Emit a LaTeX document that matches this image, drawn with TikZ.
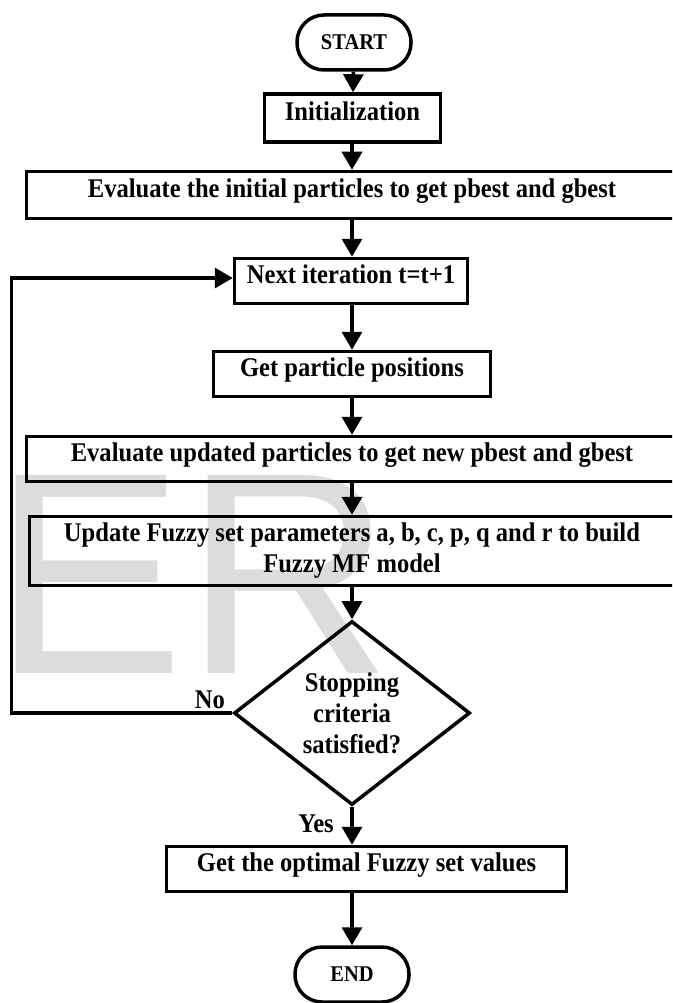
\documentclass[tikz,border=0pt]{standalone}
\usepackage{fontspec}
\setmainfont{Liberation Serif}[FakeStretch=0.91]
\newfontfamily\wmfont{Liberation Sans}
\usetikzlibrary{arrows.meta,shapes.geometric}
\definecolor{wmgray}{HTML}{DCDCDC}
\newcommand\fsz[1]{\fontsize{#1}{31}\selectfont\bfseries}
\tikzset{
  proc/.style={draw, line width=3.5pt, rectangle, inner sep=0pt, align=center,
    font=\fsz{27}, text height=18pt, text depth=13pt},
  proctwo/.style={draw, line width=3.5pt, rectangle, inner sep=0pt, align=center,
    font=\fsz{27}},
  term/.style={draw, line width=3.5pt, rectangle, rounded corners=27pt, inner sep=0pt,
    minimum width=114pt, minimum height=55pt, font=\fsz{22.5}},
  decide/.style={draw, line width=3.5pt, diamond, aspect=1.28, inner sep=0pt,
    align=center, font=\fsz{27}, minimum width=236pt, minimum height=184pt},
  flow/.style={line width=3.5pt, -{Triangle[width=20pt,length=18pt]}},
  lbl/.style={inner sep=0pt, anchor=base, font=\fsz{27}},
}
\begin{document}
\begin{tikzpicture}[x=1pt,y=-1pt]
\useasboundingbox (0,0) rectangle (672,1003);
\clip (0,0) rectangle (672,1003);
% watermark
\node[anchor=base west, inner sep=0pt, text=wmgray,
  font=\wmfont\fontsize{288}{288}\selectfont] (wm) at (-8,673) {ER};
% nodes
\node[term] (start) at (354,42.5) {START};
\node[proc, minimum width=176pt, minimum height=48pt] (init) at (352.5,118) {Initialization};
\node[proc, minimum width=651pt, minimum height=47pt] (eval1) at (352,195)
  {Evaluate the initial particles to get pbest and gbest};
\node[proc, minimum width=233pt, minimum height=45pt] (next) at (351,281) {Next iteration t=t+1};
\node[proc, minimum width=277pt, minimum height=45pt] (pos) at (352,374) {Get particle positions};
\node[proc, minimum width=651pt, minimum height=45pt] (eval2) at (352,459)
  {Evaluate updated particles to get new pbest and gbest};
\node[proctwo, minimum width=645pt, minimum height=69pt] (upd) at (352,551)
  {Update Fuzzy set parameters a, b, c, p, q and r to build\\Fuzzy MF model};
\node[decide] (dia) at (352,713) {Stopping\\criteria\\satisfied?};
\node[proc, minimum width=400pt, minimum height=45pt] (opt) at (366.5,869)
  {Get the optimal Fuzzy set values};
\node[term] (end) at (352,974.5) {END};
\node[lbl] (no) at (210,708) {No};
\node[lbl] (yes) at (316,832) {Yes};
\coordinate (lp) at (11.5,713);
% connectors
\draw[flow] (start) -- (init);
\draw[flow] (init.south -| eval1) -- (eval1);
\draw[flow] (eval1) -- (next.north -| eval1);
\draw[flow] (next.south -| pos) -- (pos);
\draw[flow] (pos) -- (eval2);
\draw[flow] (eval2) -- (upd);
\draw[flow] (upd) -- (dia);
\draw[flow] (dia) -- (opt.north -| dia);
\draw[flow] (opt.south -| end) -- (end);
\draw[flow] (dia.west) -- (lp) |- ([yshift=3pt]next.west);
\end{tikzpicture}
\end{document}
